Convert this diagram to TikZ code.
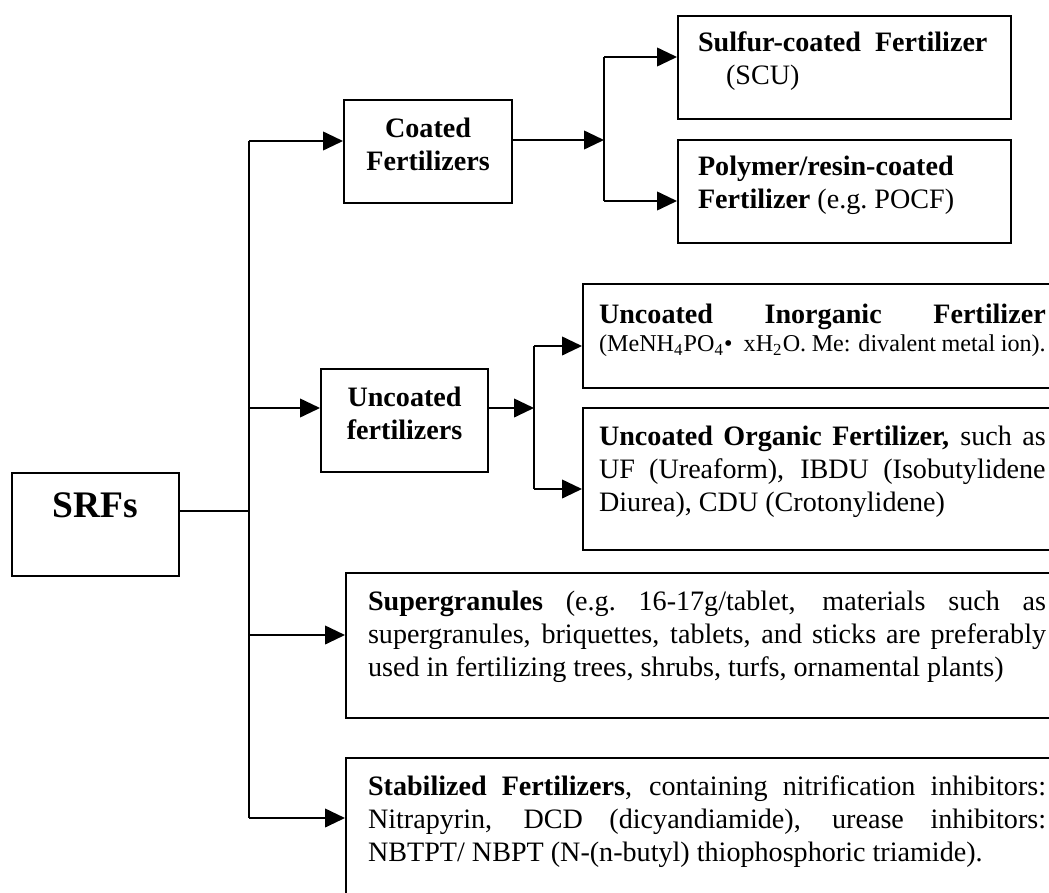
\documentclass[tikz,border=0pt]{standalone}
\usepackage{fontspec}
\setmainfont{Liberation Serif}
\usetikzlibrary{arrows.meta}
\long\def\boxpar#1#2#3{\parbox[t][#2][t]{#1}{#3}}% Syntax: {text width}{text height}{text}
\tikzset{
	catbox/.style={draw,line width=0.9pt,anchor=north west,inner xsep=0.3cm,inner ysep=0.27cm,font=\fontsize{12}{14.1}\selectfont},
	link/.style={line width=0.8pt},
	arr/.style={line width=0.8pt,-{Triangle[length=0.3cm,width=0.28cm]}},
}

\begin{document}
\begin{tikzpicture}
	\useasboundingbox (0,0) rectangle (15.735,13.38);
	\clip (0,0) rectangle (15.735,13.38);
	%ROOT
	\node[catbox,inner xsep=0.15cm,inner ysep=0.3cm,font=\fontsize{16}{19}\selectfont\bfseries] (srfs) at (0.165,6.3) {\boxpar{2.205cm}{0.945cm}{\centering SRFs}};
	%
	\node[catbox,inner xsep=0.15cm] (coated)   at (5.145,11.895) {\boxpar{2.22cm}{1.005cm}{\centering\bfseries Coated\\Fertilizers}};
	\node[catbox,inner xsep=0.15cm] (uncoated) at (4.8,7.86)     {\boxpar{2.205cm}{1.005cm}{\centering\bfseries Uncoated\\fertilizers}};
	\node[catbox,inner xsep=0.33cm] (super)    at (5.175,4.8)    {\boxpar{10.17cm}{1.635cm}{\textbf{Supergranules} (e.g.\ 16-17g/tablet, materials such as\linebreak supergranules, briquettes, tablets, and sticks are preferably\linebreak used in fertilizing trees, shrubs, turfs, ornamental plants)}};
	\node[catbox,inner xsep=0.33cm] (stab)     at (5.175,2.025)  {\boxpar{10.17cm}{1.82cm}{\textbf{Stabilized Fertilizers}, containing nitrification inhibitors:\linebreak Nitrapyrin, DCD (dicyandiamide), urease inhibitors:\linebreak NBTPT/ NBPT (N-(n-butyl) thiophosphoric triamide).}};
	%
	\node[catbox,inner ysep=0.23cm] (sulfur)  at (10.155,13.155) {\boxpar{4.395cm}{1.085cm}{\raggedright\textbf{Sulfur-coated~~Fertilizer}\\\hspace*{0.42cm}(SCU)}};
	\node[catbox,inner ysep=0.24cm] (polymer) at (10.155,11.295) {\boxpar{4.395cm}{1.065cm}{\raggedright\textbf{Polymer/resin-coated}\\\textbf{Fertilizer} (e.g.\ POCF)}};
	\node[catbox,inner xsep=0.24cm,inner ysep=0.3cm] (inorganic) at (8.73,9.135) {\boxpar{6.7cm}{0.96cm}{{\parfillskip=0pt\textbf{Uncoated Inorganic Fertilizer}\par}{\fontsize{10.3}{12}\selectfont (MeNH\textsubscript{4}PO\textsubscript{4}\textbullet\ \ xH\textsubscript{2}O. Me: divalent metal ion).\par}}};
	\node[catbox,inner xsep=0.24cm] (organic)   at (8.73,7.275) {\boxpar{6.7cm}{1.59cm}{\textbf{Uncoated Organic Fertilizer,} such as\linebreak UF (Ureaform), IBDU (Isobutylidene\linebreak Diurea), CDU (Crotonylidene)}};

	%JUNCTIONS
	\coordinate (t-srf)  at (3.735,5.715);
	\coordinate (t-coat) at (3.735,11.265);
	\coordinate (t-unc)  at (3.735,7.26);
	\coordinate (t-sup)  at (3.735,3.855);
	\coordinate (t-stab) at (3.735,1.11);
	\coordinate (b-coat) at (9.06,11.28);
	\coordinate (b-sulf) at (9.06,12.525);
	\coordinate (b-poly) at (9.06,10.365);
	\coordinate (b-unc)  at (8.01,7.26);
	\coordinate (b-inor) at (8.01,8.19);
	\coordinate (b-org)  at (8.01,6.045);

	%CONNECTORS
	\draw[link] (srfs.east |- t-srf) -- (t-srf);
	\draw[link] (t-coat) -- (t-stab);
	\draw[arr] (t-coat) -- (coated.west |- t-coat);
	\draw[arr] (t-unc) -- (uncoated.west |- t-unc);
	\draw[arr] (t-sup) -- (super.west |- t-sup);
	\draw[arr] (t-stab) -- (stab.west |- t-stab);
	%
	\draw[arr] (coated.east |- b-coat) -- (b-coat);
	\draw[link] (b-sulf) -- (b-poly);
	\draw[arr] (b-sulf) -- (sulfur.west |- b-sulf);
	\draw[arr] (b-poly) -- (polymer.west |- b-poly);
	%
	\draw[arr] (uncoated.east |- b-unc) -- (b-unc);
	\draw[link] (b-inor) -- (b-org);
	\draw[arr] (b-inor) -- (inorganic.west |- b-inor);
	\draw[arr] (b-org) -- (organic.west |- b-org);
\end{tikzpicture}
\end{document}
